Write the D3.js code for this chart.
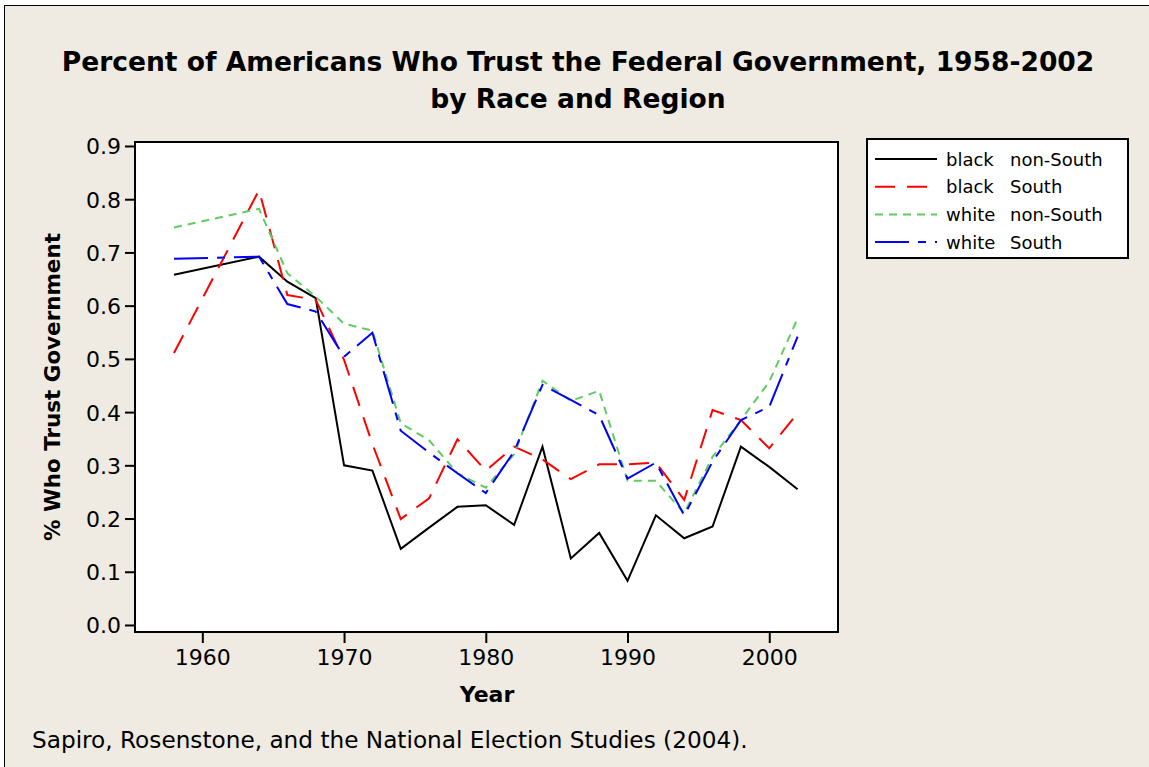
<!DOCTYPE html>
<html>
<head>
<meta charset="utf-8">
<script src="https://cdn.jsdelivr.net/npm/d3@7"></script>
<style>
  html, body { margin: 0; padding: 0; background: #fff; }
  svg { display: block; font-family: "DejaVu Sans", Verdana, sans-serif; }
</style>
</head>
<body>
<div id="chart"></div>
<script>
// survey years (no data for 1960 / 1962)
const years = [1958, 1964, 1966, 1968, 1970, 1972, 1974, 1976, 1978, 1980, 1982,
  1984, 1986, 1988, 1990, 1992, 1994, 1996, 1998, 2000, 2002];

const blackNonSouth = [0.658, 0.692, 0.645, 0.614, 0.300, 0.290, 0.143, 0.183, 0.222, 0.225, 0.188,
  0.335, 0.125, 0.173, 0.083, 0.206, 0.163, 0.185, 0.335, 0.297, 0.255];
const blackSouth = [0.511, 0.817, 0.620, 0.611, 0.498, 0.340, 0.199, 0.238, 0.349, 0.290, 0.335,
  0.311, 0.274, 0.302, 0.302, 0.305, 0.235, 0.404, 0.385, 0.332, 0.398];
const whiteNonSouth = [0.747, 0.782, 0.661, 0.617, 0.566, 0.553, 0.379, 0.347, 0.285, 0.258, 0.321,
  0.459, 0.421, 0.440, 0.271, 0.271, 0.210, 0.316, 0.385, 0.457, 0.576];
const whiteSouth = [0.688, 0.692, 0.603, 0.589, 0.504, 0.549, 0.365, 0.324, 0.285, 0.248, 0.326,
  0.451, 0.423, 0.394, 0.275, 0.305, 0.206, 0.307, 0.385, 0.410, 0.542];

const seriesNames = [["black", "non-South"], ["black", "South"], ["white", "non-South"], ["white", "South"]];
const xTicks = [1960, 1970, 1980, 1990, 2000];
const yTicks = [0.0, 0.1, 0.2, 0.3, 0.4, 0.5, 0.6, 0.7, 0.8, 0.9];

const W = 1149, H = 767;
const plot = { left: 135, right: 838, top: 142, bottom: 632 };

const series = [
  { name: seriesNames[0], values: blackNonSouth, color: "#000000", dash: null },
  { name: seriesNames[1], values: blackSouth, color: "#ff0000", dash: "20,12" },
  { name: seriesNames[2], values: whiteNonSouth, color: "#5fcc5f", dash: "8,6" },
  { name: seriesNames[3], values: whiteSouth, color: "#0000ff", dash: "34,9,8,9" }
];

const svg = d3.select("#chart").append("svg")
  .attr("width", W)
  .attr("height", H);

// shrink/grow a text's font so it spans the width seen in the picture
function fitText(sel, width) {
  const fs = +sel.attr("font-size");
  const len = sel.node().getComputedTextLength();
  sel.attr("font-size", (fs * width / len).toFixed(2));
  return sel;
}

// outer frame of the graph window
svg.append("rect")
  .attr("x", 4.5).attr("y", 5.5)
  .attr("width", W + 10).attr("height", H + 10)
  .attr("fill", "#efebe2")
  .attr("stroke", "#000")
  .attr("stroke-width", 1);

const t1 = svg.append("text")
  .attr("x", 578).attr("y", 71)
  .attr("text-anchor", "middle")
  .attr("font-size", 25).attr("font-weight", "bold")
  .text("Percent of Americans Who Trust the Federal Government, 1958-2002");
fitText(t1, 1033);
svg.append("text")
  .attr("x", 578).attr("y", 108)
  .attr("text-anchor", "middle")
  .attr("font-size", t1.attr("font-size")).attr("font-weight", "bold")
  .text("by Race and Region");

const x = d3.scaleLinear().domain([1955.25, 2004.85]).range([plot.left, plot.right]);
const y = d3.scaleLinear().domain([-0.0132, 0.9075]).range([plot.bottom, plot.top]);

svg.append("rect")
  .attr("x", plot.left).attr("y", plot.top)
  .attr("width", plot.right - plot.left).attr("height", plot.bottom - plot.top)
  .attr("fill", "#fff");

const xAxis = svg.append("g")
  .attr("transform", `translate(0,${plot.bottom})`)
  .call(d3.axisBottom(x).tickValues(xTicks).tickFormat(d3.format("d")).tickSize(11).tickPadding(6));
const yAxis = svg.append("g")
  .attr("transform", `translate(${plot.left},0)`)
  .call(d3.axisLeft(y).tickValues(yTicks).tickFormat(d3.format(".1f")).tickSize(10).tickPadding(4));

[xAxis, yAxis].forEach(g => {
  g.select(".domain").remove();
  g.selectAll("line").attr("stroke", "#000").attr("stroke-width", 2);
  g.selectAll("text").attr("font-size", 22).attr("fill", "#000")
    .attr("font-family", "'DejaVu Sans', Verdana, sans-serif");
});
yAxis.selectAll("text").attr("dy", "0.36em");

const line = d3.line()
  .x((d, i) => x(years[i]))
  .y(d => y(d));

svg.append("defs").append("clipPath").attr("id", "plotclip")
  .append("rect")
  .attr("x", plot.left).attr("y", plot.top)
  .attr("width", plot.right - plot.left).attr("height", plot.bottom - plot.top);

svg.append("g").attr("clip-path", "url(#plotclip)")
  .selectAll("path")
  .data(series)
  .join("path")
  .attr("d", d => line(d.values))
  .attr("fill", "none")
  .attr("stroke", d => d.color)
  .attr("stroke-width", 2)
  .attr("stroke-dasharray", d => d.dash);

// plot border
svg.append("rect")
  .attr("x", plot.left).attr("y", plot.top)
  .attr("width", plot.right - plot.left).attr("height", plot.bottom - plot.top)
  .attr("fill", "none")
  .attr("stroke", "#000")
  .attr("stroke-width", 2);

svg.append("text")
  .attr("x", 487).attr("y", 702)
  .attr("text-anchor", "middle")
  .attr("font-size", 22).attr("font-weight", "bold")
  .text("Year");

const yt = svg.append("text")
  .attr("transform", `translate(60,${(plot.top + plot.bottom) / 2}) rotate(-90)`)
  .attr("text-anchor", "middle")
  .attr("font-size", 22).attr("font-weight", "bold")
  .text("% Who Trust Government");
fitText(yt, 308);

const foot = svg.append("text")
  .attr("x", 32).attr("y", 748)
  .attr("font-size", 22)
  .text("Sapiro, Rosenstone, and the National Election Studies (2004).");
fitText(foot, 716);

// legend
const legend = svg.append("g");
legend.append("rect")
  .attr("x", 867).attr("y", 139)
  .attr("width", 261).attr("height", 119)
  .attr("fill", "#fff")
  .attr("stroke", "#000")
  .attr("stroke-width", 2);

const rows = legend.selectAll("g.row")
  .data(series)
  .join("g")
  .attr("class", "row")
  .attr("transform", (d, i) => `translate(0,${159 + i * 27.7})`);

rows.append("line")
  .attr("x1", 875).attr("x2", 937)
  .attr("stroke", d => d.color)
  .attr("stroke-width", 2)
  .attr("stroke-dasharray", d => d.dash);
rows.append("text")
  .attr("x", 946).attr("y", 6.5)
  .attr("font-size", 18)
  .text(d => d.name[0]);
rows.append("text")
  .attr("x", 1010).attr("y", 6.5)
  .attr("font-size", 18)
  .text(d => d.name[1]);
</script>
</body>
</html>
